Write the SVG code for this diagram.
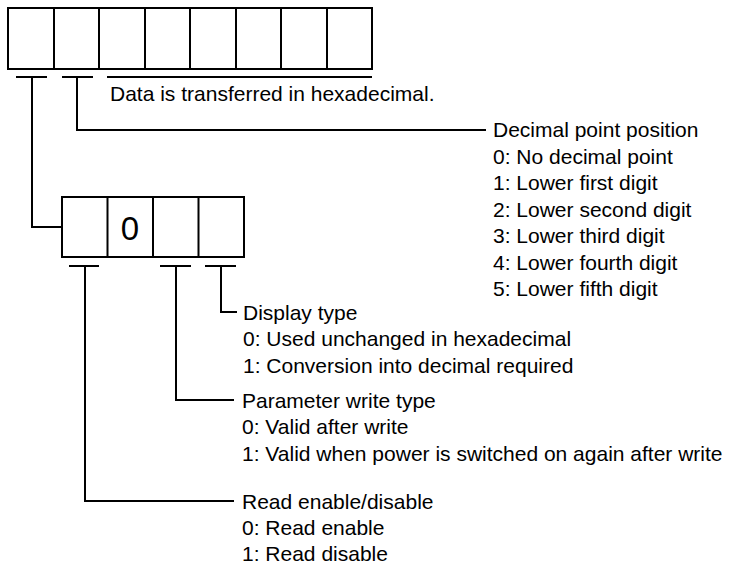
<svg xmlns="http://www.w3.org/2000/svg" width="733" height="568" viewBox="0 0 733 568">
<style>
.b{fill:#fff;stroke:#000;stroke-width:2}
.c{fill:none;stroke:#000;stroke-width:2}
text{font-family:"Liberation Sans",Arial,sans-serif;font-size:21px;fill:#000}
.big{font-size:33px}
</style>
<rect width="733" height="568" fill="#fff"/>
<g id="top-register">
<rect class="b" x="8" y="8" width="364" height="61"/>
<path class="c" d="M54 8V69M99 8V69M145 8V69M190 8V69M236 8V69M281 8V69M327 8V69"/>
</g>
<g id="sub-register">
<rect class="b" x="62" y="197" width="182" height="60"/>
<path class="c" d="M107.5 197V257M153 197V257M198.5 197V257"/>
<text class="big" x="130" y="240" text-anchor="middle">0</text>
</g>
<g id="connectors">
<path class="c" d="M16 77H47M62 77H93M107 77H372"/>
<path class="c" d="M32 77V227H62"/>
<path class="c" d="M77 77V130H486"/>
<path class="c" d="M69 266H99M160 266H191M205 266H236"/>
<path class="c" d="M221 266V312H237"/>
<path class="c" d="M176 266V400H234"/>
<path class="c" d="M85 266V501H234"/>
</g>
<g id="hex-note">
<text x="110" y="101">Data is transferred in hexadecimal.</text>
</g>
<g id="decimal-point">
<text x="493" y="137">Decimal point position</text>
<text x="493" y="163.5">0: No decimal point</text>
<text x="493" y="190">1: Lower first digit</text>
<text x="493" y="216.5">2: Lower second digit</text>
<text x="493" y="243">3: Lower third digit</text>
<text x="493" y="269.5">4: Lower fourth digit</text>
<text x="493" y="296">5: Lower fifth digit</text>
</g>
<g id="display-type">
<text x="243" y="319.5">Display type</text>
<text x="243" y="346">0: Used unchanged in hexadecimal</text>
<text x="243" y="372.5">1: Conversion into decimal required</text>
</g>
<g id="write-type">
<text x="242" y="407.5">Parameter write type</text>
<text x="242" y="434">0: Valid after write</text>
<text x="242" y="460.5">1: Valid when power is switched on again after write</text>
</g>
<g id="read-enable">
<text x="242" y="508.5">Read enable/disable</text>
<text x="242" y="535">0: Read enable</text>
<text x="242" y="561">1: Read disable</text>
</g>
</svg>
